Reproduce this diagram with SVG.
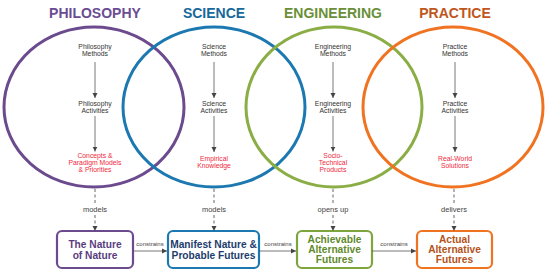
<svg xmlns="http://www.w3.org/2000/svg" width="550" height="274" viewBox="0 0 550 274">
<defs>
<style>
.hd{font-family:"Liberation Sans",Arial,sans-serif;font-weight:bold;font-size:14px;text-anchor:middle}
.in{font-family:"Liberation Sans",Arial,sans-serif;font-size:6.8px;text-anchor:middle;fill:#333}
.rd{font-family:"Liberation Sans",Arial,sans-serif;font-size:6.8px;text-anchor:middle;fill:#f0283c}
.lb{font-family:"Liberation Sans",Arial,sans-serif;font-size:7.5px;text-anchor:middle;fill:#444}
.cl{font-family:"Liberation Sans",Arial,sans-serif;font-size:6px;text-anchor:middle;fill:#444}
.bt{font-family:"Liberation Sans",Arial,sans-serif;font-weight:bold;font-size:10.2px;text-anchor:middle}
.circ{fill:none;stroke-width:3}
.box{fill:#fff;stroke-width:2.2}
.ia{stroke:#555;stroke-width:0.8;fill:none;marker-end:url(#ah)}
.da{stroke:#666;stroke-width:1;stroke-dasharray:3,2.5;fill:none}
.sa{stroke:#555;stroke-width:0.8;fill:none;marker-end:url(#ah)}
</style>
<marker id="ah" markerWidth="6" markerHeight="6" refX="5" refY="3" orient="auto" markerUnits="userSpaceOnUse">
<path d="M0,0.5 L5,3 L0,5.5 Z" fill="#444"/>
</marker>
</defs>
<rect width="550" height="274" fill="#fff"/>

<g id="philosophy">
<text class="hd" x="95" y="18" fill="#6a4c93">PHILOSOPHY</text>
<ellipse class="circ" cx="94" cy="107" rx="90" ry="80" stroke="#6b4a8e"/>
</g>
<g id="science">
<text class="hd" x="214" y="18" fill="#17689a">SCIENCE</text>
<ellipse class="circ" cx="214" cy="107" rx="91" ry="80" stroke="#1c78b0"/>
</g>
<g id="engineering">
<text class="hd" x="333" y="18" fill="#6a8f38">ENGINEERING</text>
<ellipse class="circ" cx="334" cy="107" rx="88" ry="80" stroke="#8aae45"/>
</g>
<g id="practice">
<text class="hd" x="455" y="18" fill="#c0561c">PRACTICE</text>
<ellipse class="circ" cx="453" cy="107" rx="90" ry="80" stroke="#f07322"/>
</g>

<g id="philosophy-inner">
<text class="in" x="95" y="49">Philosophy</text>
<text class="in" x="95" y="56">Methods</text>
<text class="in" x="95" y="106">Philosophy</text>
<text class="in" x="95" y="113">Activities</text>
<text class="rd" x="95" y="157.5">Concepts &amp;</text>
<text class="rd" x="95" y="164.5">Paradigm Models</text>
<text class="rd" x="95" y="171.5">&amp; Priorities</text>
</g>
<g id="science-inner">
<text class="in" x="214" y="49">Science</text>
<text class="in" x="214" y="56">Methods</text>
<text class="in" x="214" y="106">Science</text>
<text class="in" x="214" y="113">Activities</text>
<text class="rd" x="214" y="161">Empirical</text>
<text class="rd" x="214" y="168">Knowledge</text>
</g>
<g id="engineering-inner">
<text class="in" x="333" y="49">Engineering</text>
<text class="in" x="333" y="56">Methods</text>
<text class="in" x="333" y="106">Engineering</text>
<text class="in" x="333" y="113">Activities</text>
<text class="rd" x="333" y="157.5">Socio-</text>
<text class="rd" x="333" y="164.5">Technical</text>
<text class="rd" x="333" y="171.5">Products</text>
</g>
<g id="practice-inner">
<text class="in" x="455" y="49">Practice</text>
<text class="in" x="455" y="56">Methods</text>
<text class="in" x="455" y="106">Practice</text>
<text class="in" x="455" y="113">Activities</text>
<text class="rd" x="455" y="161">Real-World</text>
<text class="rd" x="455" y="168">Solutions</text>
</g>

<g id="box-nature">
<rect class="box" x="57" y="231" width="76" height="37" rx="5" stroke="#6b4a8e"/>
<text class="bt" x="95" y="248" fill="#5a3d80">The Nature</text>
<text class="bt" x="95" y="258.5" fill="#5a3d80">of Nature</text>
</g>
<g id="box-manifest">
<rect class="box" x="168" y="231" width="91" height="37" rx="5" stroke="#1c78b0"/>
<text class="bt" x="213.5" y="248" fill="#1d3d6b">Manifest Nature &amp;</text>
<text class="bt" x="213.5" y="258.5" fill="#1d3d6b">Probable Futures</text>
</g>
<g id="box-achievable">
<rect class="box" x="297" y="231" width="75" height="37" rx="5" stroke="#7ea43e"/>
<text class="bt" x="334.5" y="242.5" fill="#5f8a2e">Achievable</text>
<text class="bt" x="334.5" y="252.5" fill="#5f8a2e">Alternative</text>
<text class="bt" x="334.5" y="262.5" fill="#5f8a2e">Futures</text>
</g>
<g id="box-actual">
<rect class="box" x="417" y="231" width="75" height="37" rx="5" stroke="#f07322"/>
<text class="bt" x="454.5" y="242.5" fill="#b4531c">Actual</text>
<text class="bt" x="454.5" y="252.5" fill="#b4531c">Alternative</text>
<text class="bt" x="454.5" y="262.5" fill="#b4531c">Futures</text>
</g>

<g id="connectors">
<line class="ia" x1="95" y1="62" x2="95" y2="98"/>
<line class="ia" x1="95" y1="116" x2="95" y2="151.5"/>
<line class="ia" x1="214" y1="62" x2="214" y2="98"/>
<line class="ia" x1="214" y1="116" x2="214" y2="152"/>
<line class="ia" x1="333" y1="62" x2="333" y2="98"/>
<line class="ia" x1="333" y1="116" x2="333" y2="151.5"/>
<line class="ia" x1="455" y1="62" x2="455" y2="98"/>
<line class="ia" x1="455" y1="116" x2="455" y2="152"/>

<line class="da" x1="95" y1="189" x2="95" y2="204"/>
<text class="lb" x="95" y="212">models</text>
<line class="da" x1="95" y1="215" x2="95" y2="226"/>
<path d="M92.5,226 L95,231 L97.5,226 Z" fill="#444"/>

<line class="da" x1="214" y1="189" x2="214" y2="204"/>
<text class="lb" x="214" y="212">models</text>
<line class="da" x1="214" y1="215" x2="214" y2="226"/>
<path d="M211.5,226 L214,231 L216.5,226 Z" fill="#444"/>

<line class="da" x1="333" y1="189" x2="333" y2="204"/>
<text class="lb" x="333" y="212">opens up</text>
<line class="da" x1="333" y1="215" x2="333" y2="226"/>
<path d="M330.5,226 L333,231 L335.5,226 Z" fill="#444"/>

<line class="da" x1="454" y1="189" x2="454" y2="204"/>
<text class="lb" x="454" y="212">delivers</text>
<line class="da" x1="454" y1="215" x2="454" y2="226"/>
<path d="M451.5,226 L454,231 L456.5,226 Z" fill="#444"/>

<line class="sa" x1="133" y1="251" x2="167" y2="251"/>
<text class="cl" x="150" y="246">constrains</text>
<line class="sa" x1="259" y1="251" x2="296" y2="251"/>
<text class="cl" x="278" y="246">constrains</text>
<line class="sa" x1="372" y1="251" x2="416" y2="251"/>
<text class="cl" x="394" y="246">constrains</text>
</g>
</svg>
